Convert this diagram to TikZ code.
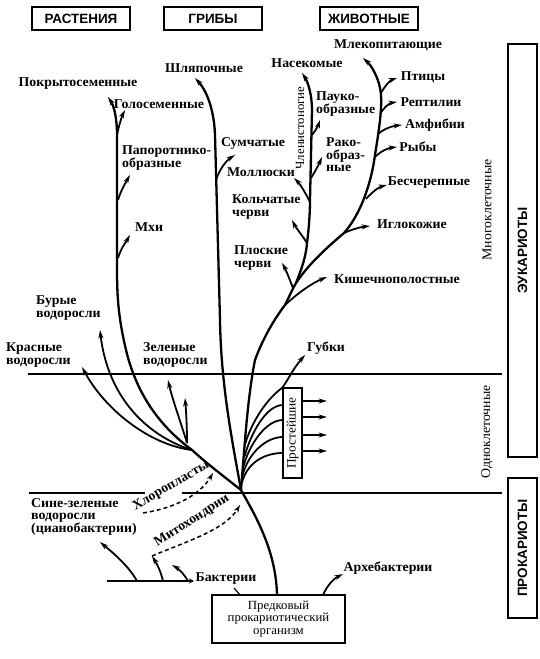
\documentclass[tikz,border=0pt]{standalone}
\usepackage{fontspec}
\setmainfont{Liberation Serif}[FakeStretch=1.03]
\setsansfont{Liberation Sans}
\usetikzlibrary{arrows.meta,calc}

\tikzset{
  stem/.style={line width=2.3bp},
  twig/.style={line width=1.8bp,-{Stealth[length=8.5bp,width=5bp]}},
  lbl/.style={font=\bfseries\fontsize{13.5}{12.5}\selectfont,inner sep=0pt,align=left},
  thinlbl/.style={font=\fontsize{13.5}{13}\selectfont,inner sep=0pt,rotate=90},
  kingdom/.style={draw,line width=1.1bp,inner sep=0pt,minimum width=98bp,minimum height=23bp,
    font=\sffamily\bfseries\fontsize{13.5}{14}\selectfont},
  domainbox/.style={kingdom,rotate=90,minimum height=29bp},
  hline/.style={line width=2.2bp},
  dashline/.style={line width=1.5bp,dash pattern=on 4bp off 3bp,-{Stealth[length=8bp,width=5bp]}}
}

\begin{document}
\begin{tikzpicture}[x=1bp,y=-1bp]
  \useasboundingbox (0,0) rectangle (540,659);
  \def\groups{
    \node[kingdom] (rast) at (81,18.5) {РАСТЕНИЯ};
    \node[kingdom] (grib) at (213,18.5) {ГРИБЫ};
    \node[kingdom] (zhiv) at (369,18.5) {ЖИВОТНЫЕ};
    \node[domainbox,minimum width=413bp] (euk) at (522.5,250.5) {ЭУКАРИОТЫ};
    \node[domainbox,minimum width=140bp] (prok) at (522.5,548) {ПРОКАРИОТЫ};
    \node[thinlbl] (mnog) at (487,210) {Многоклеточные};
    \node[thinlbl] (odno) at (487,432) {Одноклеточные};
  }
  \def\levels{
    \coordinate (L1a) at (28,374);  \coordinate (L1b) at (502,374);
    \coordinate (L2a) at (29,493);  \coordinate (L2b) at (145,493);
    \coordinate (L2c) at (182,493); \coordinate (L2d) at (502,493);
    \draw[hline] (L1a) -- (L1b);
    \draw[hline] (L2a) -- (L2b) (L2c) -- (L2d);
  }
  \def\tips{
    % plants
    \coordinate (J) at (241,490);
    \coordinate (alg) at (192,450);
    \coordinate (pokrT) at (108,97);
    \coordinate (goloB) at (117,135);  \coordinate (goloT) at (125,110);
    \coordinate (papoB) at (118,200);  \coordinate (papoT) at (130,175);
    \coordinate (mhiB) at (118,258);   \coordinate (mhiT) at (130,235);
    \coordinate (buryT) at (100,330);
    \coordinate (krasT) at (82,367);
    \coordinate (zelB) at (187,443);
    \coordinate (zelT) at (168,380);   \coordinate (zelU) at (185,398);
    % fungi
    \coordinate (shlyT) at (195,78);
    \coordinate (sumB) at (216,180);   \coordinate (sumT) at (235,155);
    % animals
    \coordinate (kiB) at (285,305);    \coordinate (kishT) at (327,277);
    \coordinate (S1) at (296,283);
    \coordinate (plB) at (293,288);    \coordinate (plosT) at (282,263);
    \coordinate (koB) at (307,243);    \coordinate (kolcT) at (292,220);
    \coordinate (moB) at (310,202);    \coordinate (mollT) at (294,178);
    \coordinate (raB) at (311,178);    \coordinate (rakoT) at (322,157);
    \coordinate (paB) at (312,135);    \coordinate (paukT) at (320,120);
    \coordinate (naseT) at (302,73);
    \coordinate (igB) at (344,233);    \coordinate (igloT) at (370,226);
    \coordinate (beB) at (366,199);    \coordinate (bescT) at (387,185);
    \coordinate (ryB) at (375,157);    \coordinate (rybyT) at (397,147);
    \coordinate (amB) at (378,134);    \coordinate (amfiT) at (402,125);
    \coordinate (reB) at (380,114);    \coordinate (reptT) at (397,102);
    \coordinate (ptB) at (381,93);     \coordinate (pticT) at (397,78);
    \coordinate (mlekT) at (363,58);
    % protists
    \coordinate (gbB) at (282,388);    \coordinate (gubkT) at (305,355);
    % prokaryotes
    \coordinate (predT) at (277,595);
    \coordinate (arB) at (323,595);    \coordinate (arheT) at (343,574);
    \coordinate (bkL) at (107,581);    \coordinate (bkR) at (194,581);
    \coordinate (bkA) at (240,595);    \coordinate (bkZ) at (234,588);
    \coordinate (sB) at (137,581);     \coordinate (sineT) at (100,542);
    \coordinate (mB) at (163,581);     \coordinate (mT) at (152,556);
    \coordinate (tB) at (188,581);     \coordinate (tT) at (172,565);
    \coordinate (mitoT) at (240,505);
    \coordinate (chS) at (143,513);    \coordinate (chT) at (213,473);
  }
  \def\labels{
    \node[lbl] (pokr) at (78,84) {Покрытосеменные};
    \node[lbl] (golo) at (159,104) {Голосеменные};
    \node[lbl,anchor=west] (papo) at (122,158) {Папоротнико-\\образные};
    \node[lbl] (mhi) at (149,227) {Мхи};
    \node[lbl,anchor=west] (bury) at (36,308) {Бурые\\водоросли};
    \node[lbl,anchor=west] (kras) at (6,355) {Красные\\водоросли};
    \node[lbl,anchor=west] (zele) at (143,355) {Зеленые\\водоросли};
    \node[lbl] (shly) at (204,68) {Шляпочные};
    \node[lbl] (sumc) at (253,143) {Сумчатые};
    \node[lbl] (moll) at (261,172) {Моллюски};
    \node[lbl,anchor=west] (kolc) at (232,207) {Кольчатые\\черви};
    \node[lbl,anchor=west] (plos) at (234,258) {Плоские\\черви};
    \node[lbl] (nase) at (307,63) {Насекомые};
    \node[thinlbl,font=\fontsize{12.5}{12}\selectfont] (chle) at (300,128) {Членистоногие};
    \node[lbl,anchor=west] (pauk) at (316,104) {Пауко-\\образные};
    \node[lbl,anchor=west] (rako) at (326,155) {Рако-\\образ-\\ные};
    \node[lbl] (mlek) at (388,45) {Млекопитающие};
    \node[lbl] (ptic) at (423,77) {Птицы};
    \node[lbl] (rept) at (431,102) {Рептилии};
    \node[lbl] (amfi) at (435,125) {Амфибии};
    \node[lbl] (ryby) at (418,147) {Рыбы};
    \node[lbl] (besc) at (429,183) {Бесчерепные};
    \node[lbl] (iglo) at (412,224) {Иглокожие};
    \node[lbl] (kish) at (397,279) {Кишечнополостные};
    \node[lbl] (gubk) at (326,348) {Губки};
    \node[draw,line width=1.2bp,rotate=90,minimum width=90bp,minimum height=19bp,inner sep=0pt,
      font=\fontsize{13}{13}\selectfont] (pros) at (292.5,433) {Простейшие};
    \node[lbl,anchor=west,font=\bfseries\fontsize{13.5}{12}\selectfont] (sine) at (31,517)
      {Сине-зеленые\\водоросли\\(цианобактерии)};
    \node[lbl] (bakt) at (226,579) {Бактерии};
    \node[lbl] (arhe) at (388,568) {Архебактерии};
    \node[draw,line width=1.5bp,minimum width=133bp,minimum height=48bp,inner sep=0pt,align=center,
      font=\fontsize{12.5}{12.5}\selectfont] (pred) at (278.5,619) {Предковый\\прокариотический\\организм};
    \node[lbl,rotate=30] (hlor) at (171,486) {Хлоропласты};
    \node[lbl,rotate=33] (mito) at (192,521) {Митохондрии};
  }
  \def\plants{
    \draw[stem,-{Stealth[length=8.5bp,width=5bp]}] (J) .. controls (222,475) and (205,462) .. (alg)
      .. controls (165,430) and (138,400) .. (126,350) .. controls (119,320) and (117,300) .. (117,270)
      -- (117,135) .. controls (117,118) and (114,106) .. (pokrT);
    \draw[twig] (goloB) .. controls (119,125) and (122,116) .. (goloT);
    \draw[twig] (papoB) .. controls (121,190) and (126,182) .. (papoT);
    \draw[twig] (mhiB) .. controls (121,248) and (126,242) .. (mhiT);
    \draw[twig] (alg) .. controls (150,437) and (108,400) .. (buryT);
    \draw[twig] (alg) .. controls (150,445) and (105,410) .. (krasT);
    \draw[twig] (zelB) .. controls (180,420) and (172,398) .. (zelT);
    \draw[twig] (zelB) .. controls (187,425) and (186,410) .. (zelU);
  }
  \def\fungi{
    \draw[stem,-{Stealth[length=8.5bp,width=5bp]}] (J) .. controls (232,440) and (221,385) .. (220,320)
      -- (215,135) .. controls (214,108) and (206,90) .. (shlyT);
    \draw[twig] (sumB) .. controls (220,168) and (227,160) .. (sumT);
  }
  \def\animals{
    \draw[stem] (J) .. controls (245,440) and (248,395) .. (255,360)
      .. controls (263,338) and (275,318) .. (kiB) .. controls (289,297) and (292,290) .. (S1);
    \draw[twig] (kiB) .. controls (298,293) and (312,283) .. (kishT);
    \draw[twig] (plB) .. controls (289,278) and (286,270) .. (plosT);
    % arthropod line
    \draw[stem,-{Stealth[length=8.5bp,width=5bp]}] (S1) .. controls (302,268) and (306,256) .. (koB)
      .. controls (309,228) and (310,212) .. (310,200) -- (312,110)
      .. controls (312,95) and (308,82) .. (naseT);
    \draw[twig] (koB) .. controls (302,235) and (296,228) .. (kolcT);
    \draw[twig] (moB) .. controls (305,192) and (300,184) .. (mollT);
    \draw[twig] (raB) .. controls (316,170) and (319,164) .. (rakoT);
    \draw[twig] (paB) .. controls (316,130) and (318,126) .. (paukT);
    % chordate line
    \draw[stem,-{Stealth[length=8.5bp,width=5bp]}] (S1) .. controls (310,262) and (330,245) .. (igB)
      .. controls (360,215) and (371,185) .. (375,155) .. controls (379,130) and (382,110) .. (381,95)
      .. controls (380,80) and (372,66) .. (mlekT);
    \draw[twig] (igB) .. controls (353,229) and (361,227) .. (igloT);
    \draw[twig] (beB) .. controls (372,192) and (379,187) .. (bescT);
    \draw[twig] (ryB) .. controls (381,151) and (388,148) .. (rybyT);
    \draw[twig] (amB) .. controls (385,128) and (393,126) .. (amfiT);
    \draw[twig] (reB) .. controls (385,106) and (390,103) .. (reptT);
    \draw[twig] (ptB) .. controls (386,84) and (391,80) .. (pticT);
  }
  \def\protists{
    \draw[twig] (244.5,446) .. controls (252,420) and (268,398) .. (gbB)
      .. controls (287,382) and (292,370) .. (gubkT);
    \foreach \s/\e [count=\i] in {456/405,466/420,475/437,483/453} {
      \coordinate (ps\i) at ($(J)!{(490-\s)/130}!(255,360)$);
      \coordinate (pe\i) at (283,\e);
      \draw[line width=1.8bp] (ps\i) .. controls ($(ps\i)+(6,-22)$) and (266,\e) .. (pe\i);
    }
    \foreach \y [count=\i] in {401,417,435,451} {
      \coordinate (pa\i) at (302,\y);
      \coordinate (pb\i) at (327,\y);
      \draw[twig] (pa\i) -- (pb\i);
    }
  }
  \def\prokaryotes{
    \draw[stem] (predT) .. controls (276,550) and (255,515) .. (J);
    \draw[twig] (arB) .. controls (327,586) and (333,579) .. (arheT);
    \draw[line width=2.6bp,-{Stealth[length=5bp,width=5bp]}] (bkL) -- (bkR);
    \draw[line width=1.2bp] (bkA) -- (bkZ);
    \draw[twig] (sB) .. controls (128,565) and (112,552) .. (sineT);
    \draw[twig] (mB) .. controls (161,572) and (157,564) .. (mT);
    \draw[twig] (tB) .. controls (184,574) and (179,569) .. (tT);
    % endosymbiosis
    \draw[dashline] (mT) .. controls (185,542) and (225,530) .. (mitoT);
    \draw[dashline] (chS) .. controls (175,508) and (200,495) .. (chT);
  }
  \groups
  \levels
  \tips
  \labels
  \plants
  \fungi
  \animals
  \protists
  \prokaryotes
\end{tikzpicture}
\end{document}
